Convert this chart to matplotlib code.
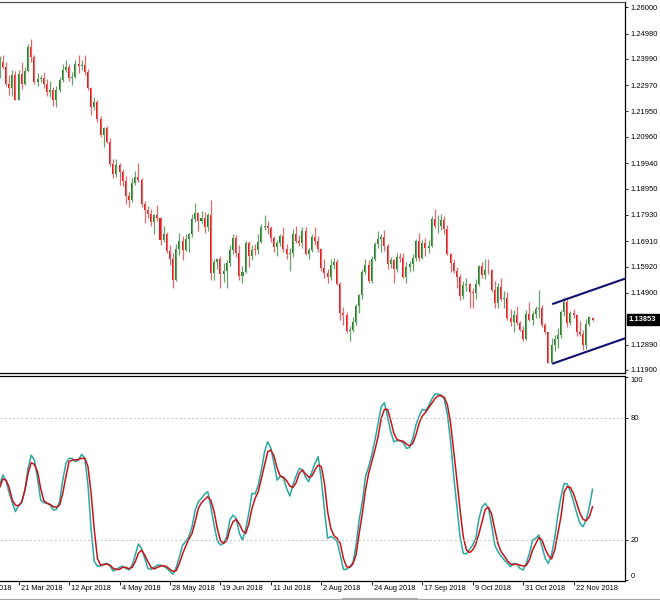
import numpy as np
import pandas as pd
import matplotlib
matplotlib.use("Agg")
import matplotlib.pyplot as plt
from matplotlib.lines import Line2D

plt.rcParams['font.family'] = ['Liberation Sans', 'DejaVu Sans']

# daily EURUSD bars, first bar is 13 Mar 2018 (business days)
first_day = '2018-03-13'

opens = [
    1.2337, 1.2389, 1.2369, 1.2301, 1.2288, 1.2336, 1.2240, 1.2341, 1.2300, 1.2352,
    1.2447, 1.2406, 1.2310, 1.2322, 1.2324, 1.2300, 1.2270, 1.2278, 1.2238, 1.2280,
    1.2318, 1.2355, 1.2366, 1.2326, 1.2330, 1.2380, 1.2373, 1.2375, 1.2347, 1.2288,
    1.2212, 1.2232, 1.2167, 1.2104, 1.2130, 1.2078, 1.1992, 1.1951, 1.1988, 1.1960,
    1.1924, 1.1865, 1.1850, 1.1918, 1.1940, 1.1927, 1.1836, 1.1810, 1.1795, 1.1767,
    1.1791, 1.1779, 1.1696, 1.1718, 1.1653, 1.1623, 1.1538, 1.1662, 1.1693, 1.1658,
    1.1698, 1.1717, 1.1777, 1.1800, 1.1768, 1.1780, 1.1745, 1.1793, 1.1567, 1.1608,
    1.1623, 1.1563, 1.1573, 1.1604, 1.1657, 1.1703, 1.1646, 1.1554, 1.1570, 1.1684,
    1.1634, 1.1657, 1.1655, 1.1688, 1.1745, 1.1749, 1.1742, 1.1705, 1.1669, 1.1685,
    1.1712, 1.1660, 1.1641, 1.1643, 1.1720, 1.1692, 1.1685, 1.1729, 1.1640, 1.1657,
    1.1707, 1.1691, 1.1659, 1.1585, 1.1566, 1.1552, 1.1600, 1.1610, 1.1526, 1.1411,
    1.1405, 1.1342, 1.1345, 1.1377, 1.1437, 1.1481, 1.1572, 1.1598, 1.1537, 1.1621,
    1.1679, 1.1700, 1.1706, 1.1672, 1.1601, 1.1618, 1.1584, 1.1628, 1.1624, 1.1551,
    1.1592, 1.1601, 1.1624, 1.1690, 1.1624, 1.1684, 1.1666, 1.1673, 1.1776, 1.1748,
    1.1748, 1.1774, 1.1738, 1.1642, 1.1604, 1.1574, 1.1550, 1.1478, 1.1519, 1.1524,
    1.1492, 1.1491, 1.1523, 1.1593, 1.1560, 1.1579, 1.1577, 1.1502, 1.1452, 1.1512,
    1.1465, 1.1469, 1.1391, 1.1377, 1.1402, 1.1372, 1.1346, 1.1312, 1.1408, 1.1386,
    1.1407, 1.1428, 1.1430, 1.1364, 1.1337, 1.1217, 1.1287, 1.1310, 1.1325, 1.1415,
    1.1454, 1.1371, 1.1410, 1.1402, 1.1339, 1.1328, 1.1289, 1.1370, 1.1393,
]
highs = [
    1.2410, 1.2413, 1.2386, 1.2336, 1.2355, 1.2351, 1.2358, 1.2388, 1.2367, 1.2456,
    1.2476, 1.2414, 1.2345, 1.2336, 1.2347, 1.2321, 1.2313, 1.2292, 1.2295, 1.2330,
    1.2378, 1.2396, 1.2381, 1.2348, 1.2396, 1.2413, 1.2396, 1.2414, 1.2359, 1.2292,
    1.2252, 1.2238, 1.2178, 1.2135, 1.2140, 1.2093, 1.2009, 1.2010, 1.1996, 1.1972,
    1.1943, 1.1880, 1.1935, 1.1962, 1.1996, 1.1938, 1.1845, 1.1829, 1.1816, 1.1795,
    1.1830, 1.1783, 1.1748, 1.1727, 1.1677, 1.1646, 1.1680, 1.1723, 1.1710, 1.1717,
    1.1722, 1.1797, 1.1840, 1.1804, 1.1809, 1.1806, 1.1799, 1.1852, 1.1623, 1.1626,
    1.1632, 1.1604, 1.1617, 1.1676, 1.1718, 1.1713, 1.1675, 1.1595, 1.1692, 1.1690,
    1.1674, 1.1680, 1.1720, 1.1759, 1.1791, 1.1769, 1.1748, 1.1709, 1.1695, 1.1720,
    1.1744, 1.1680, 1.1663, 1.1738, 1.1748, 1.1716, 1.1744, 1.1747, 1.1663, 1.1718,
    1.1744, 1.1709, 1.1666, 1.1622, 1.1583, 1.1620, 1.1626, 1.1621, 1.1533, 1.1433,
    1.1415, 1.1360, 1.1397, 1.1446, 1.1487, 1.1581, 1.1623, 1.1619, 1.1635, 1.1689,
    1.1731, 1.1718, 1.1734, 1.1679, 1.1628, 1.1623, 1.1646, 1.1644, 1.1646, 1.1608,
    1.1613, 1.1640, 1.1701, 1.1721, 1.1694, 1.1702, 1.1697, 1.1788, 1.1815, 1.1791,
    1.1797, 1.1790, 1.1753, 1.1643, 1.1622, 1.1592, 1.1563, 1.1534, 1.1548, 1.1528,
    1.1507, 1.1545, 1.1597, 1.1610, 1.1621, 1.1622, 1.1584, 1.1535, 1.1529, 1.1548,
    1.1497, 1.1494, 1.1428, 1.1422, 1.1439, 1.1382, 1.1359, 1.1425, 1.1456, 1.1421,
    1.1438, 1.1500, 1.1442, 1.1373, 1.1339, 1.1313, 1.1324, 1.1352, 1.1422, 1.1472,
    1.1472, 1.1418, 1.1426, 1.1404, 1.1380, 1.1345, 1.1388, 1.1401, 1.1397,
]
lows = [
    1.2325, 1.2360, 1.2294, 1.2259, 1.2256, 1.2238, 1.2239, 1.2282, 1.2297, 1.2348,
    1.2388, 1.2300, 1.2294, 1.2310, 1.2287, 1.2254, 1.2252, 1.2215, 1.2212, 1.2270,
    1.2308, 1.2348, 1.2315, 1.2297, 1.2324, 1.2346, 1.2355, 1.2336, 1.2280, 1.2183,
    1.2199, 1.2154, 1.2095, 1.2055, 1.2071, 1.1982, 1.1938, 1.1940, 1.1910, 1.1907,
    1.1837, 1.1822, 1.1844, 1.1908, 1.1921, 1.1822, 1.1763, 1.1781, 1.1750, 1.1717,
    1.1769, 1.1676, 1.1687, 1.1645, 1.1600, 1.1510, 1.1536, 1.1638, 1.1616, 1.1653,
    1.1649, 1.1707, 1.1765, 1.1729, 1.1763, 1.1723, 1.1729, 1.1540, 1.1541, 1.1581,
    1.1508, 1.1531, 1.1508, 1.1595, 1.1642, 1.1631, 1.1540, 1.1527, 1.1567, 1.1592,
    1.1616, 1.1636, 1.1639, 1.1683, 1.1735, 1.1719, 1.1688, 1.1647, 1.1632, 1.1671,
    1.1650, 1.1620, 1.1575, 1.1631, 1.1685, 1.1672, 1.1665, 1.1636, 1.1620, 1.1650,
    1.1675, 1.1650, 1.1576, 1.1547, 1.1529, 1.1541, 1.1584, 1.1522, 1.1386, 1.1365,
    1.1333, 1.1301, 1.1338, 1.1365, 1.1410, 1.1466, 1.1562, 1.1529, 1.1528, 1.1612,
    1.1663, 1.1650, 1.1654, 1.1583, 1.1588, 1.1530, 1.1570, 1.1608, 1.1548, 1.1529,
    1.1570, 1.1573, 1.1612, 1.1615, 1.1621, 1.1633, 1.1645, 1.1670, 1.1742, 1.1723,
    1.1733, 1.1718, 1.1636, 1.1571, 1.1567, 1.1507, 1.1463, 1.1464, 1.1497, 1.1432,
    1.1432, 1.1467, 1.1517, 1.1546, 1.1545, 1.1563, 1.1494, 1.1432, 1.1432, 1.1459,
    1.1432, 1.1385, 1.1360, 1.1336, 1.1366, 1.1340, 1.1301, 1.1306, 1.1380, 1.1366,
    1.1393, 1.1392, 1.1356, 1.1329, 1.1216, 1.1216, 1.1265, 1.1277, 1.1315, 1.1401,
    1.1357, 1.1366, 1.1391, 1.1323, 1.1322, 1.1267, 1.1273, 1.1360, 1.1380,
]
closes = [
    1.2389, 1.2369, 1.2301, 1.2288, 1.2336, 1.2240, 1.2341, 1.2300, 1.2352, 1.2447,
    1.2406, 1.2310, 1.2322, 1.2324, 1.2300, 1.2270, 1.2278, 1.2238, 1.2280, 1.2318,
    1.2355, 1.2366, 1.2326, 1.2330, 1.2380, 1.2373, 1.2375, 1.2347, 1.2288, 1.2212,
    1.2232, 1.2167, 1.2104, 1.2130, 1.2078, 1.1992, 1.1951, 1.1988, 1.1960, 1.1924,
    1.1865, 1.1850, 1.1918, 1.1940, 1.1927, 1.1836, 1.1810, 1.1795, 1.1767, 1.1791,
    1.1779, 1.1696, 1.1718, 1.1653, 1.1623, 1.1538, 1.1662, 1.1693, 1.1658, 1.1698,
    1.1717, 1.1777, 1.1800, 1.1768, 1.1780, 1.1745, 1.1793, 1.1567, 1.1608, 1.1623,
    1.1563, 1.1573, 1.1604, 1.1657, 1.1703, 1.1646, 1.1554, 1.1570, 1.1684, 1.1634,
    1.1657, 1.1655, 1.1688, 1.1745, 1.1749, 1.1742, 1.1705, 1.1669, 1.1685, 1.1712,
    1.1660, 1.1641, 1.1643, 1.1720, 1.1692, 1.1685, 1.1729, 1.1640, 1.1657, 1.1707,
    1.1691, 1.1659, 1.1585, 1.1566, 1.1552, 1.1600, 1.1610, 1.1526, 1.1411, 1.1405,
    1.1342, 1.1345, 1.1377, 1.1437, 1.1481, 1.1572, 1.1598, 1.1537, 1.1621, 1.1679,
    1.1700, 1.1706, 1.1672, 1.1601, 1.1618, 1.1584, 1.1628, 1.1624, 1.1551, 1.1592,
    1.1601, 1.1624, 1.1690, 1.1624, 1.1684, 1.1666, 1.1673, 1.1776, 1.1748, 1.1748,
    1.1774, 1.1738, 1.1642, 1.1604, 1.1574, 1.1550, 1.1478, 1.1519, 1.1524, 1.1492,
    1.1491, 1.1523, 1.1593, 1.1560, 1.1579, 1.1577, 1.1502, 1.1452, 1.1512, 1.1465,
    1.1469, 1.1391, 1.1377, 1.1402, 1.1372, 1.1346, 1.1312, 1.1408, 1.1386, 1.1407,
    1.1428, 1.1430, 1.1364, 1.1337, 1.1217, 1.1287, 1.1310, 1.1325, 1.1415, 1.1454,
    1.1371, 1.1410, 1.1402, 1.1339, 1.1328, 1.1289, 1.1370, 1.1394, 1.1385,
]

# stochastic oscillator
stoch_k = [
    46.9, 51.8, 49.0, 43.1, 38.2, 33.8, 37.0, 38.2, 44.4, 55.1,
    61.6, 59.2, 50.2, 39.5, 38.2, 37.9, 37.0, 34.6, 34.9, 38.7,
    49.3, 57.5, 60.0, 60.0, 58.4, 59.2, 62.0, 60.0, 46.9, 24.8,
    9.2, 7.0, 7.0, 8.0, 8.4, 7.0, 4.6, 5.4, 6.4, 7.0,
    5.9, 5.1, 7.5, 12.5, 17.9, 15.7, 10.8, 5.9, 5.4, 6.4,
    7.5, 7.5, 7.0, 5.9, 4.3, 3.1, 6.4, 11.6, 17.4, 19.0,
    21.5, 26.4, 34.6, 38.7, 40.3, 42.5, 43.6, 35.9, 27.2, 19.5,
    17.4, 18.2, 21.5, 29.7, 32.1, 30.5, 23.1, 19.8, 25.1, 33.0,
    42.8, 42.5, 46.9, 54.3, 63.3, 68.2, 64.9, 57.5, 49.3, 51.3,
    50.2, 45.2, 41.5, 46.9, 51.3, 55.1, 54.3, 50.7, 48.5, 53.4,
    57.5, 60.8, 49.3, 34.6, 20.7, 21.5, 20.7, 19.0, 12.5, 5.4,
    5.4, 6.7, 8.7, 16.9, 29.7, 38.7, 51.0, 55.9, 61.6, 69.0,
    77.2, 85.4, 87.4, 80.5, 73.1, 68.2, 68.7, 68.7, 67.7, 64.9,
    65.4, 69.8, 76.4, 80.8, 84.1, 83.4, 85.7, 89.0, 91.6, 91.6,
    91.1, 89.0, 81.3, 68.2, 51.0, 36.2, 21.5, 13.3, 13.0, 15.2,
    17.4, 20.7, 30.5, 36.2, 37.9, 35.4, 27.2, 17.4, 14.1, 12.0,
    10.0, 8.4, 6.7, 8.4, 7.9, 5.9, 5.1, 8.4, 13.3, 19.8,
    20.7, 22.3, 16.6, 10.8, 8.4, 12.5, 20.7, 32.1, 41.1, 47.7,
    47.4, 43.6, 38.7, 33.0, 28.0, 26.4, 29.7, 36.2, 44.8,
]
stoch_d = [
    45.7, 49.8, 49.3, 45.7, 39.5, 37.0, 36.6, 38.7, 44.4, 52.6,
    57.9, 57.0, 53.4, 45.2, 39.2, 37.9, 37.4, 36.2, 35.9, 37.0,
    42.8, 51.0, 58.4, 59.2, 59.2, 59.5, 60.0, 60.0, 55.9, 42.8,
    24.8, 10.8, 7.5, 7.7, 8.0, 7.5, 5.9, 5.4, 5.4, 6.4,
    6.4, 5.7, 6.4, 9.2, 13.3, 14.9, 12.5, 9.2, 6.4, 5.6,
    6.4, 7.0, 7.2, 6.7, 5.4, 4.4, 4.8, 8.4, 13.0, 16.9,
    20.2, 23.1, 28.9, 35.4, 38.2, 39.8, 41.1, 39.2, 33.8, 25.6,
    19.5, 18.2, 19.5, 25.1, 28.9, 30.0, 27.7, 24.4, 23.1, 27.7,
    35.4, 40.3, 43.6, 50.2, 56.7, 63.3, 64.1, 61.1, 55.1, 51.3,
    50.7, 49.0, 46.4, 45.7, 48.0, 52.6, 54.3, 52.3, 50.7, 51.3,
    54.3, 56.7, 55.9, 47.7, 33.8, 25.6, 22.0, 20.7, 18.2, 10.8,
    6.7, 6.4, 8.0, 12.5, 23.1, 32.8, 44.4, 52.6, 58.4, 64.1,
    70.7, 79.7, 84.1, 84.1, 78.7, 72.3, 69.3, 68.7, 68.4, 67.0,
    66.1, 67.4, 71.5, 77.2, 80.8, 82.5, 84.8, 87.0, 89.3, 90.7,
    90.8, 90.0, 86.2, 77.2, 63.3, 49.3, 34.6, 21.5, 15.0, 13.6,
    14.9, 17.9, 23.1, 29.0, 35.0, 35.9, 32.6, 25.1, 18.2, 14.1,
    12.0, 9.7, 8.0, 7.7, 8.0, 7.5, 7.0, 7.4, 10.0, 15.0,
    18.0, 21.1, 19.8, 15.4, 12.3, 10.5, 14.8, 23.1, 31.3, 43.4,
    46.1, 45.7, 42.5, 37.9, 33.0, 30.0, 29.3, 31.3, 36.2,
]

price_levels = [1.26000, 1.24980, 1.23990, 1.22970, 1.21950, 1.20960, 1.19940,
                1.18950, 1.17930, 1.16910, 1.15920, 1.14900, 1.12890, 1.11900]
stoch_levels = [100, 80, 20, 0]
date_labels = ['27 Feb 2018', '21 Mar 2018', '12 Apr 2018', '4 May 2018',
               '28 May 2018', '19 Jun 2018', '11 Jul 2018', '2 Aug 2018',
               '24 Aug 2018', '17 Sep 2018', '9 Oct 2018', '31 Oct 2018',
               '22 Nov 2018']
last_price = 1.13853

# channel lines: (bar index, price) end points
upper_line = ([175.2, 198.3], [1.1446, 1.1545])
lower_line = ([175.2, 198.3], [1.1214, 1.1313])

BULL = '#1f7f1f'
BEAR = '#e3161a'
BULL_WICK = '#6a9e6a'
BEAR_WICK = '#e26a6a'
K_COLOR = '#2aa8a0'
D_COLOR = '#c4141a'

W, H = 660, 600
fig = plt.figure(figsize=(W / 100, H / 100), dpi=100)
fig.patch.set_facecolor('white')

ax_p = fig.add_axes([0, 1 - 373 / H, 625 / W, 371 / H])
ax_s = fig.add_axes([0, 1 - 580.5 / H, 625 / W, 204.5 / H])

o = np.array(opens)
h = np.array(highs)
l = np.array(lows)
c = np.array(closes)
idx = np.arange(len(c))
up = c >= o

# candles: wicks then bodies
ax_p.vlines(idx, l, h, colors=np.where(up, BULL_WICK, BEAR_WICK), linewidth=0.9)
body = np.maximum(np.abs(c - o), 0.00035)
ax_p.bar(idx, body, bottom=np.minimum(o, c), width=0.64,
         color=np.where(up, BULL, BEAR), linewidth=0)

ax_p.plot(*upper_line, color='#10106e', linewidth=1.5, solid_capstyle='butt')
ax_p.plot(*lower_line, color='#10106e', linewidth=1.5, solid_capstyle='butt')

xlim = (0.1, 198.3)
ax_p.set_xlim(*xlim)
ax_p.set_ylim(1.11782, 1.26206)
ax_p.set_xticks([])
ax_p.yaxis.tick_right()
ax_p.set_yticks(price_levels)
ax_p.set_yticklabels([f'{v:.5f}' for v in price_levels])
ax_p.tick_params(axis='y', length=2.5, width=0.6, pad=1.5, labelsize=5.4,
                 direction='out', colors='black')

ax_p.annotate(f'{last_price:.5f}', xy=(1, last_price),
              xycoords=('axes fraction', 'data'), xytext=(4, 0),
              textcoords='offset pixels', ha='left', va='center',
              color='white', fontsize=5.4, fontweight='bold',
              bbox=dict(boxstyle='square,pad=0.3', fc='black', ec='black'),
              annotation_clip=False)

# stochastic panel
ax_s.plot(idx, stoch_k, color=K_COLOR, linewidth=1.1)
ax_s.plot(idx, stoch_d, color=D_COLOR, linewidth=1.1)
for lvl in (20, 80):
    ax_s.axhline(lvl, color='#bdbdbd', linewidth=0.6, linestyle=(0, (2.5, 2.5)))
ax_s.set_xlim(*xlim)
ax_s.set_ylim(-0.07, 100.5)
ax_s.yaxis.tick_right()
ax_s.set_yticks(stoch_levels)
ax_s.set_yticklabels([str(v) for v in stoch_levels])
ax_s.tick_params(axis='y', length=2.5, width=0.6, pad=1.5, labelsize=5.4,
                 direction='out')
for lab, v in zip(ax_s.get_yticklabels(), stoch_levels):
    if v == 100:
        lab.set_va('top')
    elif v == 0:
        lab.set_va('bottom')

# date ticks: business days counted from the first bar
tick_pos = [int(np.busday_count(first_day, pd.to_datetime(d).strftime('%Y-%m-%d')))
            for d in date_labels]
ax_s.set_xticks([p for p in tick_pos if xlim[0] <= p <= xlim[1]])
ax_s.set_xticklabels([])
ax_s.tick_params(axis='x', length=3, width=0.6, direction='out')
for p, d in zip(tick_pos, date_labels):
    ax_s.annotate(d, xy=(p, 0), xycoords=('data', 'axes fraction'),
                  xytext=(2, -7.5), textcoords='offset pixels',
                  ha='left', va='center', fontsize=5.3, annotation_clip=False)

for ax in (ax_p, ax_s):
    ax.set_facecolor('white')
    ax.spines['left'].set_visible(False)
    for side in ('top', 'right', 'bottom'):
        ax.spines[side].set_color('black')
        ax.spines[side].set_linewidth(0.9)
ax_p.spines['top'].set_color('#505050')

# terminal tab strip along the bottom edge
fig.add_artist(Line2D([0, 1], [1 - 598.5 / H] * 2, color='#a8a8a8', linewidth=0.8))
fig.add_artist(Line2D([342 / W, 342 / W, 417 / W, 417 / W],
                      [0, 1 - 597.5 / H, 1 - 597.5 / H, 0],
                      color='#a8a8a8', linewidth=0.8))

fig.savefig('out.png', dpi=100, facecolor='white')
